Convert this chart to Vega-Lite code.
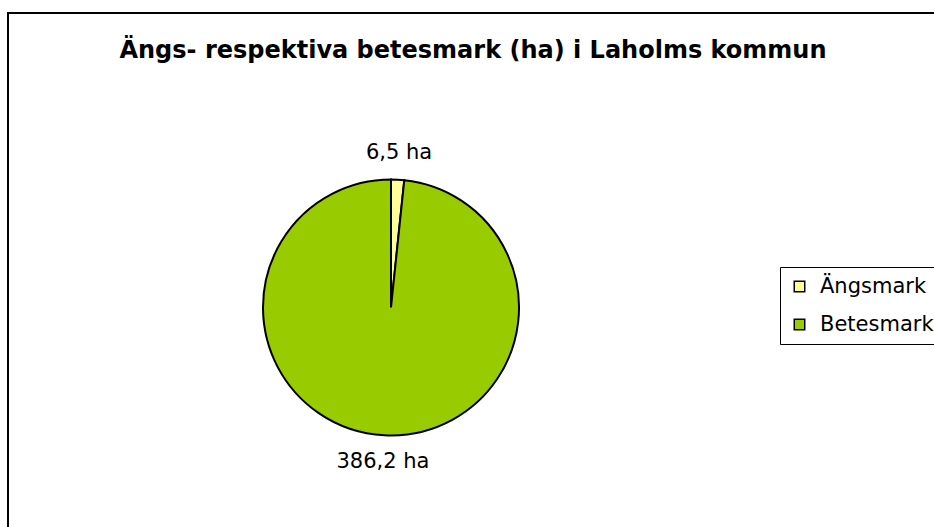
{
  "$schema": "https://vega.github.io/schema/vega-lite/v6.json",
  "autosize": {"type": "none"},
  "padding": {"left": 8, "top": 13, "right": 0, "bottom": 0},
  "width": 930,
  "height": 520,
  "background": "white",
  "view": {"stroke": "black", "strokeWidth": 2, "fill": "white"},
  "title": {
    "text": "Ängs- respektiva betesmark (ha) i Laholms kommun",
    "font": "DejaVu Sans",
    "fontSize": 24,
    "fontWeight": "bold",
    "color": "black",
    "anchor": "middle",
    "frame": "group",
    "offset": 0,
    "baseline": "alphabetic",
    "dy": 69
  },
  "config": {"view": {"stroke": "black", "strokeWidth": 2, "fill": "white"}},
  "data": {
    "values": [
      {"typ": "Ängsmark", "ha": 6.5, "ordning": 1, "etikett": "6,5 ha"},
      {"typ": "Betesmark", "ha": 386.2, "ordning": 2, "etikett": "386,2 ha"}
    ]
  },
  "encoding": {
    "theta": {"field": "ha", "type": "quantitative", "stack": true},
    "order": {"field": "ordning", "type": "quantitative"}
  },
  "layer": [
    {
      "mark": {"type": "arc", "outerRadius": 128, "x": 383, "y": 294.5, "stroke": "black", "strokeWidth": 2},
      "encoding": {
        "color": {
          "field": "typ",
          "type": "nominal",
          "scale": {"domain": ["Ängsmark", "Betesmark"], "range": ["#FFFF99", "#99CC00"]},
          "legend": {
            "title": null,
            "orient": "none",
            "legendX": 772,
            "legendY": 254,
            "symbolType": "square",
            "symbolSize": 110,
            "symbolStrokeColor": "black",
            "symbolStrokeWidth": 1.5,
            "labelFont": "DejaVu Sans",
            "labelFontSize": 21,
            "labelColor": "black",
            "labelOffset": 10,
            "strokeColor": "black",
            "fillColor": "white",
            "padding": 9,
            "rowPadding": 16
          }
        }
      }
    },
    {
      "mark": {"type": "text", "radius": 155, "x": 383, "y": 294.5, "font": "DejaVu Sans", "fontSize": 21, "align": "center", "baseline": "middle", "color": "black"},
      "encoding": {"text": {"field": "etikett", "type": "nominal"}}
    }
  ]
}
